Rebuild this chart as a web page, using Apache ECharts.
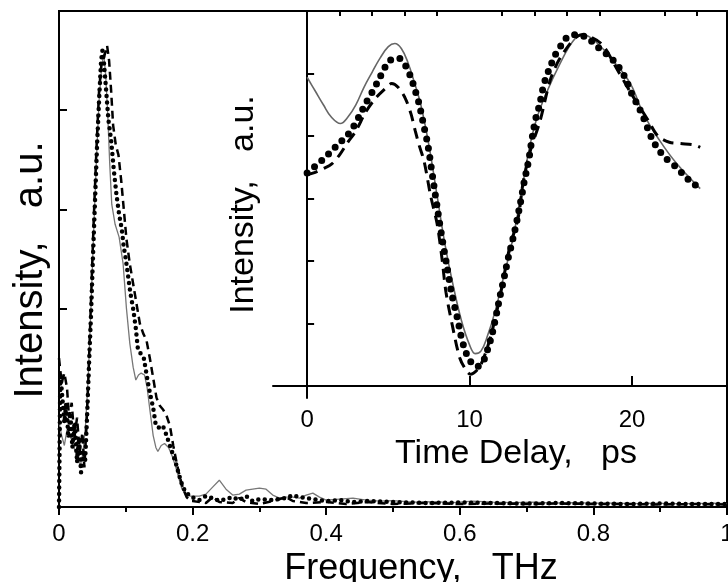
<!DOCTYPE html>
<html>
<head>
<meta charset="utf-8">
<script src="https://cdn.jsdelivr.net/npm/echarts@6/dist/echarts.min.js"></script>
<style>html,body{margin:0;padding:0;background:#fff}#c{width:728px;height:582px}</style>
</head>
<body>
<div id="c"></div>
<script>
// ---- Main panel: spectra (frequency THz, intensity a.u.) ----
const spectrumSolid = [[0.000,0.85],[0.004,0.72],[0.008,0.62],[0.012,0.78],[0.016,0.72],[0.020,0.66],[0.024,0.56],[0.028,0.48],[0.032,0.42],[0.036,0.55],[0.040,0.85],[0.044,1.35],[0.048,2.05],[0.052,2.8],[0.056,3.5],[0.060,4.1],[0.064,4.45],[0.067,4.57],[0.070,4.35],[0.073,3.95],[0.076,3.45],[0.079,3.05],[0.084,2.85],[0.090,2.72],[0.096,2.45],[0.101,2.0],[0.106,1.65],[0.111,1.41],[0.115,1.28],[0.119,1.33],[0.123,1.35],[0.128,1.33],[0.132,1.2],[0.136,0.98],[0.141,0.72],[0.145,0.6],[0.148,0.56],[0.153,0.62],[0.158,0.64],[0.164,0.6],[0.169,0.52],[0.174,0.42],[0.179,0.3],[0.184,0.18],[0.190,0.13],[0.197,0.11],[0.205,0.11],
  [0.21,0.11],[0.22,0.13],[0.23,0.2],[0.24,0.27],[0.25,0.18],[0.26,0.12],[0.27,0.13],[0.28,0.17],[0.29,0.18],[0.30,0.19],[0.31,0.18],[0.32,0.12],[0.33,0.09],[0.34,0.1],[0.35,0.1],[0.36,0.09],[0.37,0.12],[0.38,0.14],[0.39,0.1],[0.40,0.07],[0.42,0.08],[0.44,0.09],[0.46,0.07],[0.48,0.06],[0.50,0.065],[0.53,0.05],[0.56,0.055],[0.59,0.045],[0.62,0.06],[0.65,0.05],[0.68,0.045],[0.71,0.05],[0.74,0.04],[0.77,0.045],[0.80,0.04],[0.83,0.04],[0.86,0.035],[0.89,0.04],[0.92,0.035],[0.95,0.035],[0.98,0.04],[1.0,0.035]];
const spectrumDotted = [[0.000,0.0],[0.002,1.35],[0.005,1.1],[0.008,0.85],[0.011,1.05],[0.014,0.7],[0.017,0.95],[0.020,0.6],[0.024,0.85],[0.027,0.45],[0.030,0.7],[0.033,0.35],[0.036,0.55],[0.039,0.45],[0.042,0.9],[0.045,1.45],[0.048,1.95],[0.051,2.55],[0.054,3.1],[0.057,3.65],[0.060,4.1],[0.063,4.5],[0.065,4.6],[0.067,4.5],[0.070,4.25],[0.074,3.9],[0.078,3.7],[0.082,3.4],[0.086,3.15],[0.090,2.95],[0.094,2.8],[0.097,2.62],[0.100,2.5],[0.103,2.35],[0.107,2.15],[0.111,2.0],[0.115,1.8],[0.118,1.6],[0.122,1.55],[0.127,1.5],[0.130,1.38],[0.133,1.26],[0.137,1.12],[0.141,1.0],[0.145,0.82],[0.150,0.8],[0.155,0.82],[0.158,0.78],[0.163,0.68],[0.167,0.6],[0.171,0.52],[0.175,0.44],[0.179,0.34],[0.183,0.25],[0.188,0.17],[0.193,0.13],[0.198,0.1],
  [0.21,0.07],[0.22,0.11],[0.23,0.09],[0.24,0.06],[0.25,0.08],[0.26,0.1],[0.27,0.07],[0.28,0.11],[0.29,0.06],[0.30,0.08],[0.32,0.07],[0.34,0.09],[0.35,0.12],[0.36,0.1],[0.38,0.08],[0.40,0.06],[0.42,0.07],[0.44,0.05],[0.46,0.06],[0.50,0.05],[0.55,0.04],[0.60,0.045],[0.65,0.04],[0.70,0.035],[0.75,0.04],[0.80,0.035],[0.85,0.03],[0.90,0.035],[0.95,0.03],[1.0,0.03]];
const spectrumDashed = [[0.000,1.5],[0.004,1.25],[0.008,1.35],[0.012,1.2],[0.015,0.9],[0.019,1.05],[0.023,0.7],[0.027,0.9],[0.031,0.55],[0.035,0.75],[0.038,0.4],[0.041,0.8],[0.044,1.3],[0.048,2.1],[0.052,2.9],[0.056,3.6],[0.060,4.2],[0.064,4.5],[0.068,4.55],[0.072,4.65],[0.075,4.5],[0.078,4.2],[0.081,3.85],[0.085,3.65],[0.089,3.55],[0.093,3.3],[0.097,3.0],[0.101,2.7],[0.106,2.45],[0.111,2.25],[0.116,2.05],[0.121,1.85],[0.126,1.75],[0.131,1.68],[0.136,1.5],[0.141,1.3],[0.146,1.1],[0.151,1.02],[0.156,0.98],[0.161,0.92],[0.166,0.82],[0.171,0.62],[0.176,0.45],[0.181,0.3],[0.186,0.18],[0.191,0.1],[0.197,0.06],
  [0.20,0.06],[0.22,0.04],[0.23,0.1],[0.24,0.05],[0.26,0.04],[0.27,0.09],[0.28,0.05],[0.30,0.03],[0.32,0.06],[0.34,0.1],[0.35,0.06],[0.37,0.04],[0.40,0.05],[0.43,0.03],[0.46,0.05],[0.50,0.03],[0.55,0.04],[0.60,0.03],[0.65,0.035],[0.70,0.03],[0.75,0.035],[0.80,0.03],[0.85,0.03],[0.90,0.025],[0.95,0.03],[1.0,0.025]];

// ---- Inset: waveforms (time delay ps, intensity a.u.) ----
const waveSolid = [[0,4.94],[0.5,4.72],[1.0,4.5],[1.5,4.3],[2.05,4.2],[2.5,4.3],[3.0,4.5],[3.5,4.78],[4.0,5.02],[4.5,5.25],[5.0,5.43],[5.4,5.48],[5.8,5.4],[6.2,5.18],[6.6,4.86],[7.0,4.5],[7.5,3.85],[8.0,3.05],[8.5,2.25],[9.0,1.6],[9.5,1.05],[10.0,0.66],[10.35,0.52],[10.7,0.56],[11.1,0.8],[11.6,1.22],[12.1,1.75],[12.6,2.28],[13.1,2.95],[13.6,3.7],[14.1,4.25],[14.75,4.7],[15.57,5.16],[16.4,5.53],[17.0,5.62],[17.8,5.5],[18.85,5.2],[19.9,4.84],[20.7,4.36],[21.7,3.93],[22.75,3.56],[24.2,3.16]];
const waveDotted = [[0,3.41],[0.5,3.52],[1.0,3.63],[1.5,3.76],[2.0,3.89],[2.5,4.02],[2.9,4.17],[3.25,4.34],[3.6,4.52],[4.0,4.7],[4.35,4.87],[4.7,5.05],[5.05,5.2],[5.6,5.25],[6.05,5.13],[6.4,4.93],[6.65,4.73],[6.87,4.54],[7.05,4.33],[7.22,4.12],[7.38,3.93],[7.52,3.72],[7.64,3.5],[7.76,3.29],[7.88,3.08],[8.0,2.88],[8.15,2.62],[8.3,2.38],[8.45,2.15],[8.6,1.93],[8.75,1.7],[8.9,1.48],[9.1,1.25],[9.3,1.03],[9.47,0.81],[9.67,0.62],[9.97,0.43],[10.44,0.31],[10.9,0.43],[11.14,0.61],[11.36,0.8],[11.54,1.01],[11.7,1.21],[11.87,1.43],[12.04,1.63],[12.22,1.85],[12.39,2.06],[12.6,2.28],[12.78,2.48],[12.94,2.68],[13.1,2.89],[13.24,3.08],[13.38,3.29],[13.54,3.48],[13.69,3.69],[13.81,3.9],[13.95,4.12],[14.1,4.31],[14.31,4.5],[14.48,4.72],[14.66,4.9],[14.97,5.11],[15.28,5.3],[15.69,5.47],[16.1,5.6],[16.7,5.62],[17.3,5.56],[17.9,5.42],[18.4,5.32],[18.95,5.18],[19.4,5.02],[19.7,4.86],[19.98,4.68],[20.4,4.47],[20.7,4.3],[21.0,4.1],[21.3,3.92],[21.7,3.76],[22.1,3.64],[22.65,3.52],[23.15,3.39],[23.7,3.25],[24.2,3.17]];
const waveDashed = [[0,3.38],[0.5,3.42],[1.0,3.48],[1.5,3.55],[2.0,3.7],[2.5,3.9],[3.0,4.08],[3.6,4.38],[4.2,4.6],[4.9,4.78],[5.2,4.84],[5.6,4.78],[6.05,4.6],[6.4,4.35],[6.65,4.09],[6.9,3.85],[7.2,3.6],[7.6,3.05],[8.0,2.6],[8.3,2.05],[8.55,1.5],[8.95,0.96],[9.4,0.45],[9.8,0.25],[10.05,0.19],[10.6,0.3],[11.1,0.62],[11.55,1.05],[11.95,1.53],[12.3,2.01],[12.5,2.25],[13.0,2.7],[13.3,3.26],[13.75,3.77],[14.35,4.25],[15.0,4.92],[15.75,5.32],[16.9,5.62],[18.1,5.48],[19.1,5.06],[20.0,4.66],[21.0,4.25],[21.6,4.0],[22.3,3.9],[23.0,3.88],[23.8,3.86],[24.2,3.82]];

// ---- Tick positions ----
const insetTimeLabels = [0, 10, 20];
const insetTimeMinor = [2, 4, 6, 8, 12, 14, 16, 18, 22, 24];
const insetIntensityTicks = [0, 1, 2, 3, 4, 5];

const FONT = 'Liberation Sans, Arial, Helvetica, sans-serif';
const black = '#000';
const chart = echarts.init(document.getElementById('c'), null, {renderer: 'canvas'});
chart.setOption({
  animation: false,
  backgroundColor: '#fff',
  textStyle: {fontFamily: FONT, color: black},
  grid: [
    {left: 59, top: 11, right: 1, bottom: 75, show: true, borderColor: black, borderWidth: 2, backgroundColor: 'transparent', containLabel: false, outerBoundsMode: 'none'},
    {left: 273, top: 11, right: 1, bottom: 184, show: false, containLabel: false, outerBoundsMode: 'none'}
  ],
  xAxis: [
    {type: 'value', gridIndex: 0, min: 0, max: 1, interval: 0.2,
     axisLine: {lineStyle: {color: black, width: 2}},
     axisTick: {inside: false, length: 8, lineStyle: {color: black, width: 2}},
     minorTick: {show: true, splitNumber: 2, length: 5, lineStyle: {color: black, width: 2}},
     splitLine: {show: false},
     axisLabel: {fontSize: 24, color: black, fontFamily: FONT, margin: 15,
       formatter: v => String(+v.toFixed(1))},
     name: 'Frequency,   THz', nameLocation: 'middle', nameGap: 34,
     nameTextStyle: {fontSize: 36, color: black, fontFamily: FONT, padding: [0, 0, 0, 56]}},
    {type: 'value', gridIndex: 1, min: -2.1, max: 25.85,
     axisLine: {lineStyle: {color: black, width: 2}},
     axisTick: {inside: true, length: 10, customValues: insetTimeLabels, lineStyle: {color: black, width: 2}},
     splitLine: {show: false},
     axisLabel: {fontSize: 24, color: black, fontFamily: FONT, margin: 10, customValues: insetTimeLabels},
     name: 'Time Delay,   ps', nameLocation: 'middle', nameGap: 30,
     nameTextStyle: {fontSize: 34, color: black, fontFamily: FONT, padding: [0, 0, 0, 32]}},
    {type: 'value', gridIndex: 1, min: -2.1, max: 25.85,
     axisLine: {show: false},
     axisTick: {inside: true, length: 5, customValues: insetTimeMinor, lineStyle: {color: black, width: 2}},
     splitLine: {show: false},
     axisLabel: {show: false}}
  ],
  yAxis: [
    {type: 'value', gridIndex: 0, min: 0, max: 5, interval: 1,
     axisLine: {show: true, lineStyle: {color: black, width: 2}},
     axisTick: {show: true, inside: true, length: 8, lineStyle: {color: black, width: 2}},
     splitLine: {show: false},
     axisLabel: {show: false},
     name: 'Intensity,   a.u.', nameLocation: 'middle', nameGap: 8,
     nameTextStyle: {fontSize: 40, color: black, fontFamily: FONT, padding: [0, 22, 0, 0]}},
    {type: 'value', gridIndex: 1, min: -0.19, max: 6,
     axisLine: {show: true, lineStyle: {color: black, width: 2}},
     axisTick: {show: true, inside: true, length: 7, customValues: insetIntensityTicks, lineStyle: {color: black, width: 2}},
     splitLine: {show: false},
     axisLabel: {show: false},
     name: 'Intensity,   a.u.', nameLocation: 'middle', nameGap: 12,
     nameTextStyle: {fontSize: 34, color: black, fontFamily: FONT}}
  ],
  series: [
    {type: 'line', xAxisIndex: 0, yAxisIndex: 0, data: spectrumSolid, showSymbol: false, silent: true,
     lineStyle: {color: '#777', width: 1.3}},
    {type: 'line', xAxisIndex: 0, yAxisIndex: 0, data: spectrumDashed, showSymbol: false, silent: true,
     lineStyle: {color: black, width: 2.5, type: [8, 5]}},
    {type: 'line', xAxisIndex: 0, yAxisIndex: 0, data: spectrumDotted, showSymbol: false, silent: true,
     lineStyle: {color: black, width: 4.5, type: [0, 6.5], cap: 'round'}},
    {type: 'line', xAxisIndex: 1, yAxisIndex: 1, data: waveSolid, showSymbol: false, silent: true, smooth: 0.4,
     lineStyle: {color: '#666', width: 1.6}},
    {type: 'line', xAxisIndex: 1, yAxisIndex: 1, data: waveDashed, showSymbol: false, silent: true, smooth: 0.3,
     lineStyle: {color: black, width: 3, type: [11, 7]}},
    {type: 'line', xAxisIndex: 1, yAxisIndex: 1, data: waveDotted, showSymbol: false, silent: true, smooth: 0.3,
     lineStyle: {color: black, width: 7, type: [0, 9.5], cap: 'round'}}
  ]
});
</script>
</body>
</html>
